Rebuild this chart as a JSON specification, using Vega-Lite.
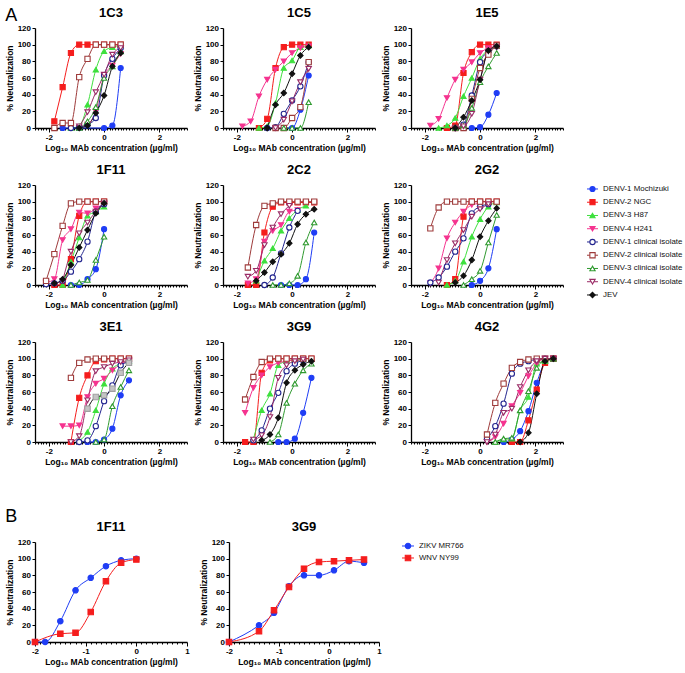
{
"$schema": "https://vega.github.io/schema/vega-lite/v6.json",
"background": "white",
"padding": {"left": 5, "top": 7, "right": 5, "bottom": 5},
"datasets": {
"pts": [
{"p":"1C3","s":"D1","x":-1.5,"y":0},{"p":"1C3","s":"D1","x":-0.9,"y":0},{"p":"1C3","s":"D1","x":0,"y":0},{"p":"1C3","s":"D1","x":0.3,"y":3},{"p":"1C3","s":"D1","x":0.6,"y":72},
{"p":"1C3","s":"D2","x":-1.8,"y":8},{"p":"1C3","s":"D2","x":-1.5,"y":49},{"p":"1C3","s":"D2","x":-1.2,"y":90},{"p":"1C3","s":"D2","x":-0.9,"y":100},{"p":"1C3","s":"D2","x":-0.6,"y":100},{"p":"1C3","s":"D2","x":-0.3,"y":100},{"p":"1C3","s":"D2","x":0,"y":100},{"p":"1C3","s":"D2","x":0.3,"y":100},{"p":"1C3","s":"D2","x":0.6,"y":100},
{"p":"1C3","s":"D3","x":-1.2,"y":0},{"p":"1C3","s":"D3","x":-0.9,"y":2},{"p":"1C3","s":"D3","x":-0.6,"y":28},{"p":"1C3","s":"D3","x":-0.3,"y":70},{"p":"1C3","s":"D3","x":0,"y":92},{"p":"1C3","s":"D3","x":0.3,"y":97},{"p":"1C3","s":"D3","x":0.6,"y":99},
{"p":"1C3","s":"D4","x":-0.9,"y":0},{"p":"1C3","s":"D4","x":-0.6,"y":4},{"p":"1C3","s":"D4","x":-0.3,"y":20},{"p":"1C3","s":"D4","x":0,"y":63},{"p":"1C3","s":"D4","x":0.3,"y":75},{"p":"1C3","s":"D4","x":0.6,"y":89},
{"p":"1C3","s":"C1","x":-1.2,"y":0},{"p":"1C3","s":"C1","x":-0.9,"y":1},{"p":"1C3","s":"C1","x":-0.6,"y":4},{"p":"1C3","s":"C1","x":-0.3,"y":12},{"p":"1C3","s":"C1","x":0,"y":63},{"p":"1C3","s":"C1","x":0.3,"y":83},{"p":"1C3","s":"C1","x":0.6,"y":96},
{"p":"1C3","s":"C2","x":-1.8,"y":0},{"p":"1C3","s":"C2","x":-1.5,"y":6},{"p":"1C3","s":"C2","x":-1.2,"y":6},{"p":"1C3","s":"C2","x":-0.9,"y":61},{"p":"1C3","s":"C2","x":-0.6,"y":83},{"p":"1C3","s":"C2","x":-0.3,"y":100},{"p":"1C3","s":"C2","x":0,"y":100},{"p":"1C3","s":"C2","x":0.3,"y":100},{"p":"1C3","s":"C2","x":0.6,"y":100},
{"p":"1C3","s":"C3","x":-0.9,"y":0},{"p":"1C3","s":"C3","x":-0.6,"y":8},{"p":"1C3","s":"C3","x":-0.3,"y":25},{"p":"1C3","s":"C3","x":0,"y":60},{"p":"1C3","s":"C3","x":0.3,"y":74},{"p":"1C3","s":"C3","x":0.6,"y":92},
{"p":"1C3","s":"C4","x":-0.9,"y":2},{"p":"1C3","s":"C4","x":-0.6,"y":19},{"p":"1C3","s":"C4","x":-0.3,"y":43},{"p":"1C3","s":"C4","x":0,"y":64},{"p":"1C3","s":"C4","x":0.3,"y":88},{"p":"1C3","s":"C4","x":0.6,"y":96},
{"p":"1C3","s":"JEV","x":-0.9,"y":0},{"p":"1C3","s":"JEV","x":-0.6,"y":3},{"p":"1C3","s":"JEV","x":-0.3,"y":18},{"p":"1C3","s":"JEV","x":0,"y":39},{"p":"1C3","s":"JEV","x":0.3,"y":74},{"p":"1C3","s":"JEV","x":0.6,"y":90},

{"p":"1C5","s":"D1","x":-0.3,"y":0},{"p":"1C5","s":"D1","x":0,"y":0},{"p":"1C5","s":"D1","x":0.3,"y":22},{"p":"1C5","s":"D1","x":0.6,"y":63},
{"p":"1C5","s":"D2","x":-1.2,"y":0},{"p":"1C5","s":"D2","x":-0.9,"y":11},{"p":"1C5","s":"D2","x":-0.6,"y":72},{"p":"1C5","s":"D2","x":-0.3,"y":97},{"p":"1C5","s":"D2","x":0,"y":100},{"p":"1C5","s":"D2","x":0.3,"y":100},{"p":"1C5","s":"D2","x":0.6,"y":100},
{"p":"1C5","s":"D3","x":-1.2,"y":0},{"p":"1C5","s":"D3","x":-0.9,"y":2},{"p":"1C5","s":"D3","x":-0.6,"y":30},{"p":"1C5","s":"D3","x":-0.3,"y":72},{"p":"1C5","s":"D3","x":0,"y":81},{"p":"1C5","s":"D3","x":0.3,"y":97},{"p":"1C5","s":"D3","x":0.6,"y":99},
{"p":"1C5","s":"D4","x":-1.8,"y":2},{"p":"1C5","s":"D4","x":-1.5,"y":8},{"p":"1C5","s":"D4","x":-1.2,"y":38},{"p":"1C5","s":"D4","x":-0.9,"y":58},{"p":"1C5","s":"D4","x":-0.6,"y":70},{"p":"1C5","s":"D4","x":-0.3,"y":80},{"p":"1C5","s":"D4","x":0,"y":90},{"p":"1C5","s":"D4","x":0.3,"y":96},{"p":"1C5","s":"D4","x":0.6,"y":98},
{"p":"1C5","s":"C1","x":-0.9,"y":0},{"p":"1C5","s":"C1","x":-0.6,"y":1},{"p":"1C5","s":"C1","x":-0.3,"y":17},{"p":"1C5","s":"C1","x":0,"y":33},{"p":"1C5","s":"C1","x":0.3,"y":50},{"p":"1C5","s":"C1","x":0.6,"y":79},
{"p":"1C5","s":"C2","x":-0.6,"y":0},{"p":"1C5","s":"C2","x":-0.3,"y":0},{"p":"1C5","s":"C2","x":0,"y":12},{"p":"1C5","s":"C2","x":0.3,"y":25},{"p":"1C5","s":"C2","x":0.6,"y":79},
{"p":"1C5","s":"C3","x":-0.3,"y":0},{"p":"1C5","s":"C3","x":0,"y":0},{"p":"1C5","s":"C3","x":0.3,"y":0},{"p":"1C5","s":"C3","x":0.6,"y":31},
{"p":"1C5","s":"C4","x":-0.6,"y":0},{"p":"1C5","s":"C4","x":-0.3,"y":10},{"p":"1C5","s":"C4","x":0,"y":32},{"p":"1C5","s":"C4","x":0.3,"y":55},{"p":"1C5","s":"C4","x":0.6,"y":71},
{"p":"1C5","s":"JEV","x":-0.9,"y":0},{"p":"1C5","s":"JEV","x":-0.6,"y":28},{"p":"1C5","s":"JEV","x":-0.3,"y":42},{"p":"1C5","s":"JEV","x":0,"y":65},{"p":"1C5","s":"JEV","x":0.3,"y":87},{"p":"1C5","s":"JEV","x":0.6,"y":97},

{"p":"1E5","s":"D1","x":-0.3,"y":0},{"p":"1E5","s":"D1","x":0,"y":1},{"p":"1E5","s":"D1","x":0.3,"y":16},{"p":"1E5","s":"D1","x":0.6,"y":42},
{"p":"1E5","s":"D2","x":-1.2,"y":0},{"p":"1E5","s":"D2","x":-0.9,"y":3},{"p":"1E5","s":"D2","x":-0.6,"y":66},{"p":"1E5","s":"D2","x":-0.3,"y":91},{"p":"1E5","s":"D2","x":0,"y":100},{"p":"1E5","s":"D2","x":0.3,"y":100},{"p":"1E5","s":"D2","x":0.6,"y":100},
{"p":"1E5","s":"D3","x":-1.5,"y":0},{"p":"1E5","s":"D3","x":-1.2,"y":3},{"p":"1E5","s":"D3","x":-0.9,"y":12},{"p":"1E5","s":"D3","x":-0.6,"y":38},{"p":"1E5","s":"D3","x":-0.3,"y":60},{"p":"1E5","s":"D3","x":0,"y":83},{"p":"1E5","s":"D3","x":0.3,"y":94},{"p":"1E5","s":"D3","x":0.6,"y":98},
{"p":"1E5","s":"D4","x":-1.8,"y":3},{"p":"1E5","s":"D4","x":-1.5,"y":11},{"p":"1E5","s":"D4","x":-1.2,"y":36},{"p":"1E5","s":"D4","x":-0.9,"y":58},{"p":"1E5","s":"D4","x":-0.6,"y":70},{"p":"1E5","s":"D4","x":-0.3,"y":79},{"p":"1E5","s":"D4","x":0,"y":90},{"p":"1E5","s":"D4","x":0.3,"y":96},{"p":"1E5","s":"D4","x":0.6,"y":98},
{"p":"1E5","s":"C1","x":-0.9,"y":0},{"p":"1E5","s":"C1","x":-0.6,"y":4},{"p":"1E5","s":"C1","x":-0.3,"y":39},{"p":"1E5","s":"C1","x":0,"y":79},{"p":"1E5","s":"C1","x":0.3,"y":92},{"p":"1E5","s":"C1","x":0.6,"y":98},
{"p":"1E5","s":"C2","x":-0.9,"y":0},{"p":"1E5","s":"C2","x":-0.6,"y":0},{"p":"1E5","s":"C2","x":-0.3,"y":35},{"p":"1E5","s":"C2","x":0,"y":72},{"p":"1E5","s":"C2","x":0.3,"y":88},{"p":"1E5","s":"C2","x":0.6,"y":99},
{"p":"1E5","s":"C3","x":-0.9,"y":0},{"p":"1E5","s":"C3","x":-0.6,"y":3},{"p":"1E5","s":"C3","x":-0.3,"y":24},{"p":"1E5","s":"C3","x":0,"y":55},{"p":"1E5","s":"C3","x":0.3,"y":74},{"p":"1E5","s":"C3","x":0.6,"y":90},
{"p":"1E5","s":"C4","x":-0.9,"y":0},{"p":"1E5","s":"C4","x":-0.6,"y":2},{"p":"1E5","s":"C4","x":-0.3,"y":17},{"p":"1E5","s":"C4","x":0,"y":58},{"p":"1E5","s":"C4","x":0.3,"y":92},{"p":"1E5","s":"C4","x":0.6,"y":97},
{"p":"1E5","s":"JEV","x":-0.9,"y":0},{"p":"1E5","s":"JEV","x":-0.6,"y":13},{"p":"1E5","s":"JEV","x":-0.3,"y":33},{"p":"1E5","s":"JEV","x":0,"y":58},{"p":"1E5","s":"JEV","x":0.3,"y":93},{"p":"1E5","s":"JEV","x":0.6,"y":98},

{"p":"1F11","s":"D1","x":-1.2,"y":0},{"p":"1F11","s":"D1","x":-0.9,"y":0},{"p":"1F11","s":"D1","x":-0.6,"y":7},{"p":"1F11","s":"D1","x":-0.3,"y":19},{"p":"1F11","s":"D1","x":0,"y":67},
{"p":"1F11","s":"D2","x":-1.8,"y":0},{"p":"1F11","s":"D2","x":-1.5,"y":0},{"p":"1F11","s":"D2","x":-1.2,"y":31},{"p":"1F11","s":"D2","x":-0.9,"y":83},{"p":"1F11","s":"D2","x":-0.6,"y":100},{"p":"1F11","s":"D2","x":-0.3,"y":100},{"p":"1F11","s":"D2","x":0,"y":100},
{"p":"1F11","s":"D3","x":-1.5,"y":0},{"p":"1F11","s":"D3","x":-1.2,"y":28},{"p":"1F11","s":"D3","x":-0.9,"y":57},{"p":"1F11","s":"D3","x":-0.6,"y":83},{"p":"1F11","s":"D3","x":-0.3,"y":88},{"p":"1F11","s":"D3","x":0,"y":94},
{"p":"1F11","s":"D4","x":-2.1,"y":3},{"p":"1F11","s":"D4","x":-1.8,"y":7},{"p":"1F11","s":"D4","x":-1.5,"y":54},{"p":"1F11","s":"D4","x":-1.2,"y":67},{"p":"1F11","s":"D4","x":-0.9,"y":87},{"p":"1F11","s":"D4","x":-0.6,"y":86},{"p":"1F11","s":"D4","x":-0.3,"y":92},{"p":"1F11","s":"D4","x":0,"y":97},
{"p":"1F11","s":"C1","x":-2.1,"y":1},{"p":"1F11","s":"C1","x":-1.8,"y":2},{"p":"1F11","s":"C1","x":-1.5,"y":5},{"p":"1F11","s":"C1","x":-1.2,"y":16},{"p":"1F11","s":"C1","x":-0.9,"y":31},{"p":"1F11","s":"C1","x":-0.6,"y":52},{"p":"1F11","s":"C1","x":-0.3,"y":88},{"p":"1F11","s":"C1","x":0,"y":97},
{"p":"1F11","s":"C2","x":-2.1,"y":5},{"p":"1F11","s":"C2","x":-1.8,"y":37},{"p":"1F11","s":"C2","x":-1.5,"y":71},{"p":"1F11","s":"C2","x":-1.2,"y":98},{"p":"1F11","s":"C2","x":-0.9,"y":100},{"p":"1F11","s":"C2","x":-0.6,"y":100},{"p":"1F11","s":"C2","x":-0.3,"y":100},{"p":"1F11","s":"C2","x":0,"y":100},
{"p":"1F11","s":"C3","x":-1.2,"y":0},{"p":"1F11","s":"C3","x":-0.9,"y":3},{"p":"1F11","s":"C3","x":-0.6,"y":6},{"p":"1F11","s":"C3","x":-0.3,"y":30},{"p":"1F11","s":"C3","x":0,"y":58},
{"p":"1F11","s":"C4","x":-1.5,"y":5},{"p":"1F11","s":"C4","x":-1.2,"y":40},{"p":"1F11","s":"C4","x":-0.9,"y":62},{"p":"1F11","s":"C4","x":-0.6,"y":75},{"p":"1F11","s":"C4","x":-0.3,"y":88},{"p":"1F11","s":"C4","x":0,"y":98},
{"p":"1F11","s":"JEV","x":-1.8,"y":2},{"p":"1F11","s":"JEV","x":-1.5,"y":7},{"p":"1F11","s":"JEV","x":-1.2,"y":24},{"p":"1F11","s":"JEV","x":-0.9,"y":45},{"p":"1F11","s":"JEV","x":-0.6,"y":66},{"p":"1F11","s":"JEV","x":-0.3,"y":86},{"p":"1F11","s":"JEV","x":0,"y":98},

{"p":"2C2","s":"D1","x":-0.4,"y":0},{"p":"2C2","s":"D1","x":-0.1,"y":0},{"p":"2C2","s":"D1","x":0.2,"y":0},{"p":"2C2","s":"D1","x":0.5,"y":7},{"p":"2C2","s":"D1","x":0.8,"y":63},
{"p":"2C2","s":"D2","x":-1.6,"y":0},{"p":"2C2","s":"D2","x":-1.3,"y":0},{"p":"2C2","s":"D2","x":-1.0,"y":63},{"p":"2C2","s":"D2","x":-0.7,"y":94},{"p":"2C2","s":"D2","x":-0.4,"y":99},{"p":"2C2","s":"D2","x":-0.1,"y":99},{"p":"2C2","s":"D2","x":0.2,"y":99},{"p":"2C2","s":"D2","x":0.5,"y":99},{"p":"2C2","s":"D2","x":0.8,"y":99},
{"p":"2C2","s":"D3","x":-1.3,"y":5},{"p":"2C2","s":"D3","x":-1.0,"y":29},{"p":"2C2","s":"D3","x":-0.7,"y":44},{"p":"2C2","s":"D3","x":-0.4,"y":65},{"p":"2C2","s":"D3","x":-0.1,"y":80},{"p":"2C2","s":"D3","x":0.2,"y":90},{"p":"2C2","s":"D3","x":0.5,"y":95},
{"p":"2C2","s":"D4","x":-1.6,"y":2},{"p":"2C2","s":"D4","x":-1.3,"y":7},{"p":"2C2","s":"D4","x":-1.0,"y":52},{"p":"2C2","s":"D4","x":-0.7,"y":65},{"p":"2C2","s":"D4","x":-0.4,"y":72},{"p":"2C2","s":"D4","x":-0.1,"y":88},{"p":"2C2","s":"D4","x":0.2,"y":90},
{"p":"2C2","s":"C1","x":-1.0,"y":0},{"p":"2C2","s":"C1","x":-0.7,"y":9},{"p":"2C2","s":"C1","x":-0.4,"y":38},{"p":"2C2","s":"C1","x":-0.1,"y":69},{"p":"2C2","s":"C1","x":0.2,"y":89},
{"p":"2C2","s":"C2","x":-1.6,"y":21},{"p":"2C2","s":"C2","x":-1.3,"y":72},{"p":"2C2","s":"C2","x":-1.0,"y":95},{"p":"2C2","s":"C2","x":-0.7,"y":98},{"p":"2C2","s":"C2","x":-0.4,"y":100},{"p":"2C2","s":"C2","x":-0.1,"y":100},{"p":"2C2","s":"C2","x":0.2,"y":100},{"p":"2C2","s":"C2","x":0.5,"y":100},{"p":"2C2","s":"C2","x":0.8,"y":100},
{"p":"2C2","s":"C3","x":-0.7,"y":0},{"p":"2C2","s":"C3","x":-0.4,"y":0},{"p":"2C2","s":"C3","x":-0.1,"y":2},{"p":"2C2","s":"C3","x":0.2,"y":11},{"p":"2C2","s":"C3","x":0.5,"y":51},{"p":"2C2","s":"C3","x":0.8,"y":75},
{"p":"2C2","s":"C4","x":-1.6,"y":10},{"p":"2C2","s":"C4","x":-1.3,"y":17},{"p":"2C2","s":"C4","x":-1.0,"y":48},{"p":"2C2","s":"C4","x":-0.7,"y":69},{"p":"2C2","s":"C4","x":-0.4,"y":85},{"p":"2C2","s":"C4","x":-0.1,"y":95},
{"p":"2C2","s":"JEV","x":-1.3,"y":5},{"p":"2C2","s":"JEV","x":-1.0,"y":15},{"p":"2C2","s":"JEV","x":-0.7,"y":28},{"p":"2C2","s":"JEV","x":-0.4,"y":37},{"p":"2C2","s":"JEV","x":-0.1,"y":50},{"p":"2C2","s":"JEV","x":0.2,"y":73},{"p":"2C2","s":"JEV","x":0.5,"y":85},{"p":"2C2","s":"JEV","x":0.8,"y":91},

{"p":"2G2","s":"D1","x":-0.3,"y":0},{"p":"2G2","s":"D1","x":0,"y":5},{"p":"2G2","s":"D1","x":0.3,"y":20},{"p":"2G2","s":"D1","x":0.6,"y":67},
{"p":"2G2","s":"D2","x":-1.2,"y":0},{"p":"2G2","s":"D2","x":-0.9,"y":7},{"p":"2G2","s":"D2","x":-0.6,"y":82},{"p":"2G2","s":"D2","x":-0.3,"y":100},{"p":"2G2","s":"D2","x":0,"y":100},{"p":"2G2","s":"D2","x":0.3,"y":100},{"p":"2G2","s":"D2","x":0.6,"y":100},
{"p":"2G2","s":"D3","x":-1.2,"y":0},{"p":"2G2","s":"D3","x":-0.9,"y":5},{"p":"2G2","s":"D3","x":-0.6,"y":28},{"p":"2G2","s":"D3","x":-0.3,"y":58},{"p":"2G2","s":"D3","x":0,"y":79},{"p":"2G2","s":"D3","x":0.3,"y":94},{"p":"2G2","s":"D3","x":0.6,"y":99},
{"p":"2G2","s":"D4","x":-1.8,"y":2},{"p":"2G2","s":"D4","x":-1.5,"y":20},{"p":"2G2","s":"D4","x":-1.2,"y":56},{"p":"2G2","s":"D4","x":-0.9,"y":75},{"p":"2G2","s":"D4","x":-0.6,"y":88},{"p":"2G2","s":"D4","x":-0.3,"y":96},{"p":"2G2","s":"D4","x":0,"y":98},
{"p":"2G2","s":"C1","x":-1.8,"y":3},{"p":"2G2","s":"C1","x":-1.5,"y":9},{"p":"2G2","s":"C1","x":-1.2,"y":22},{"p":"2G2","s":"C1","x":-0.9,"y":40},{"p":"2G2","s":"C1","x":-0.6,"y":56},{"p":"2G2","s":"C1","x":-0.3,"y":86},{"p":"2G2","s":"C1","x":0,"y":94},{"p":"2G2","s":"C1","x":0.3,"y":97},
{"p":"2G2","s":"C2","x":-1.8,"y":68},{"p":"2G2","s":"C2","x":-1.5,"y":93},{"p":"2G2","s":"C2","x":-1.2,"y":100},{"p":"2G2","s":"C2","x":-0.9,"y":100},{"p":"2G2","s":"C2","x":-0.6,"y":100},{"p":"2G2","s":"C2","x":-0.3,"y":100},{"p":"2G2","s":"C2","x":0,"y":100},{"p":"2G2","s":"C2","x":0.3,"y":100},{"p":"2G2","s":"C2","x":0.6,"y":100},
{"p":"2G2","s":"C3","x":-0.6,"y":0},{"p":"2G2","s":"C3","x":-0.3,"y":7},{"p":"2G2","s":"C3","x":0,"y":17},{"p":"2G2","s":"C3","x":0.3,"y":51},{"p":"2G2","s":"C3","x":0.6,"y":84},
{"p":"2G2","s":"C4","x":-1.5,"y":3},{"p":"2G2","s":"C4","x":-1.2,"y":30},{"p":"2G2","s":"C4","x":-0.9,"y":50},{"p":"2G2","s":"C4","x":-0.6,"y":66},{"p":"2G2","s":"C4","x":-0.3,"y":82},{"p":"2G2","s":"C4","x":0,"y":91},{"p":"2G2","s":"C4","x":0.3,"y":97},
{"p":"2G2","s":"JEV","x":-0.9,"y":3},{"p":"2G2","s":"JEV","x":-0.6,"y":11},{"p":"2G2","s":"JEV","x":-0.3,"y":30},{"p":"2G2","s":"JEV","x":0,"y":58},{"p":"2G2","s":"JEV","x":0.3,"y":77},{"p":"2G2","s":"JEV","x":0.6,"y":92},

{"p":"3E1","s":"D1","x":-0.6,"y":0},{"p":"3E1","s":"D1","x":-0.3,"y":0},{"p":"3E1","s":"D1","x":0,"y":3},{"p":"3E1","s":"D1","x":0.3,"y":16},{"p":"3E1","s":"D1","x":0.6,"y":56},{"p":"3E1","s":"D1","x":0.9,"y":74},
{"p":"3E1","s":"D2","x":-1.2,"y":0},{"p":"3E1","s":"D2","x":-0.9,"y":53},{"p":"3E1","s":"D2","x":-0.6,"y":80},{"p":"3E1","s":"D2","x":-0.3,"y":97},{"p":"3E1","s":"D2","x":0,"y":99},{"p":"3E1","s":"D2","x":0.3,"y":100},{"p":"3E1","s":"D2","x":0.6,"y":100},{"p":"3E1","s":"D2","x":0.9,"y":100},
{"p":"3E1","s":"D3","x":-0.9,"y":2},{"p":"3E1","s":"D3","x":-0.6,"y":12},{"p":"3E1","s":"D3","x":-0.3,"y":38},{"p":"3E1","s":"D3","x":0,"y":70},{"p":"3E1","s":"D3","x":0.3,"y":88},{"p":"3E1","s":"D3","x":0.6,"y":94},{"p":"3E1","s":"D3","x":0.9,"y":97},
{"p":"3E1","s":"D4","x":-1.5,"y":19},{"p":"3E1","s":"D4","x":-1.2,"y":19},{"p":"3E1","s":"D4","x":-0.9,"y":20},{"p":"3E1","s":"D4","x":-0.6,"y":54},{"p":"3E1","s":"D4","x":-0.3,"y":70},{"p":"3E1","s":"D4","x":0,"y":76},{"p":"3E1","s":"D4","x":0.3,"y":86},{"p":"3E1","s":"D4","x":0.6,"y":93},{"p":"3E1","s":"D4","x":0.9,"y":97},
{"p":"3E1","s":"C1","x":-0.9,"y":0},{"p":"3E1","s":"C1","x":-0.6,"y":2},{"p":"3E1","s":"C1","x":-0.3,"y":19},{"p":"3E1","s":"C1","x":0,"y":49},{"p":"3E1","s":"C1","x":0.3,"y":68},{"p":"3E1","s":"C1","x":0.6,"y":92},{"p":"3E1","s":"C1","x":0.9,"y":96},
{"p":"3E1","s":"C2","x":-1.2,"y":77},{"p":"3E1","s":"C2","x":-0.9,"y":95},{"p":"3E1","s":"C2","x":-0.6,"y":99},{"p":"3E1","s":"C2","x":-0.3,"y":100},{"p":"3E1","s":"C2","x":0,"y":100},{"p":"3E1","s":"C2","x":0.3,"y":100},{"p":"3E1","s":"C2","x":0.6,"y":100},{"p":"3E1","s":"C2","x":0.9,"y":100},
{"p":"3E1","s":"C3","x":-0.3,"y":0},{"p":"3E1","s":"C3","x":0,"y":3},{"p":"3E1","s":"C3","x":0.3,"y":43},{"p":"3E1","s":"C3","x":0.6,"y":66},{"p":"3E1","s":"C3","x":0.9,"y":86},
{"p":"3E1","s":"C4","x":-1.2,"y":0},{"p":"3E1","s":"C4","x":-0.9,"y":7},{"p":"3E1","s":"C4","x":-0.6,"y":50},{"p":"3E1","s":"C4","x":-0.3,"y":85},{"p":"3E1","s":"C4","x":0,"y":90},{"p":"3E1","s":"C4","x":0.3,"y":94},{"p":"3E1","s":"C4","x":0.6,"y":96},{"p":"3E1","s":"C4","x":0.9,"y":98},
{"p":"3E1","s":"JG","x":-0.6,"y":40},{"p":"3E1","s":"JG","x":-0.3,"y":54},{"p":"3E1","s":"JG","x":0,"y":56},{"p":"3E1","s":"JG","x":0.3,"y":64},{"p":"3E1","s":"JG","x":0.6,"y":83},{"p":"3E1","s":"JG","x":0.9,"y":95},

{"p":"3G9","s":"D1","x":-0.5,"y":0},{"p":"3G9","s":"D1","x":-0.2,"y":0},{"p":"3G9","s":"D1","x":0.1,"y":4},{"p":"3G9","s":"D1","x":0.4,"y":35},{"p":"3G9","s":"D1","x":0.7,"y":77},
{"p":"3G9","s":"D2","x":-1.7,"y":0},{"p":"3G9","s":"D2","x":-1.4,"y":0},{"p":"3G9","s":"D2","x":-1.1,"y":83},{"p":"3G9","s":"D2","x":-0.8,"y":98},{"p":"3G9","s":"D2","x":-0.5,"y":100},{"p":"3G9","s":"D2","x":-0.2,"y":100},{"p":"3G9","s":"D2","x":0.1,"y":100},{"p":"3G9","s":"D2","x":0.4,"y":100},{"p":"3G9","s":"D2","x":0.7,"y":100},
{"p":"3G9","s":"D3","x":-1.4,"y":3},{"p":"3G9","s":"D3","x":-1.1,"y":38},{"p":"3G9","s":"D3","x":-0.8,"y":58},{"p":"3G9","s":"D3","x":-0.5,"y":92},{"p":"3G9","s":"D3","x":-0.2,"y":97},{"p":"3G9","s":"D3","x":0.1,"y":99},{"p":"3G9","s":"D3","x":0.4,"y":100},
{"p":"3G9","s":"D4","x":-1.7,"y":35},{"p":"3G9","s":"D4","x":-1.4,"y":65},{"p":"3G9","s":"D4","x":-1.1,"y":80},{"p":"3G9","s":"D4","x":-0.8,"y":90},{"p":"3G9","s":"D4","x":-0.5,"y":95},{"p":"3G9","s":"D4","x":-0.2,"y":97},{"p":"3G9","s":"D4","x":0.1,"y":99},
{"p":"3G9","s":"C1","x":-1.4,"y":2},{"p":"3G9","s":"C1","x":-1.1,"y":14},{"p":"3G9","s":"C1","x":-0.8,"y":40},{"p":"3G9","s":"C1","x":-0.5,"y":59},{"p":"3G9","s":"C1","x":-0.2,"y":85},{"p":"3G9","s":"C1","x":0.1,"y":94},{"p":"3G9","s":"C1","x":0.4,"y":98},
{"p":"3G9","s":"C2","x":-1.7,"y":51},{"p":"3G9","s":"C2","x":-1.4,"y":78},{"p":"3G9","s":"C2","x":-1.1,"y":96},{"p":"3G9","s":"C2","x":-0.8,"y":100},{"p":"3G9","s":"C2","x":-0.5,"y":100},{"p":"3G9","s":"C2","x":-0.2,"y":100},{"p":"3G9","s":"C2","x":0.1,"y":100},{"p":"3G9","s":"C2","x":0.4,"y":100},{"p":"3G9","s":"C2","x":0.7,"y":100},
{"p":"3G9","s":"C3","x":-0.8,"y":0},{"p":"3G9","s":"C3","x":-0.5,"y":9},{"p":"3G9","s":"C3","x":-0.2,"y":47},{"p":"3G9","s":"C3","x":0.1,"y":70},{"p":"3G9","s":"C3","x":0.4,"y":86},{"p":"3G9","s":"C3","x":0.7,"y":94},
{"p":"3G9","s":"C4","x":-1.4,"y":3},{"p":"3G9","s":"C4","x":-1.1,"y":8},{"p":"3G9","s":"C4","x":-0.8,"y":30},{"p":"3G9","s":"C4","x":-0.5,"y":77},{"p":"3G9","s":"C4","x":-0.2,"y":92},{"p":"3G9","s":"C4","x":0.1,"y":97},{"p":"3G9","s":"C4","x":0.4,"y":99},
{"p":"3G9","s":"JEV","x":-1.1,"y":2},{"p":"3G9","s":"JEV","x":-0.8,"y":9},{"p":"3G9","s":"JEV","x":-0.5,"y":29},{"p":"3G9","s":"JEV","x":-0.2,"y":71},{"p":"3G9","s":"JEV","x":0.1,"y":86},{"p":"3G9","s":"JEV","x":0.4,"y":93},{"p":"3G9","s":"JEV","x":0.7,"y":97},

{"p":"4G2","s":"D1","x":0.85,"y":0},{"p":"4G2","s":"D1","x":1.15,"y":3},{"p":"4G2","s":"D1","x":1.45,"y":13},{"p":"4G2","s":"D1","x":1.75,"y":37},{"p":"4G2","s":"D1","x":2.05,"y":71},{"p":"4G2","s":"D1","x":2.35,"y":95},{"p":"4G2","s":"D1","x":2.65,"y":100},
{"p":"4G2","s":"D2","x":1.15,"y":0},{"p":"4G2","s":"D2","x":1.45,"y":0},{"p":"4G2","s":"D2","x":1.75,"y":26},{"p":"4G2","s":"D2","x":2.05,"y":63},{"p":"4G2","s":"D2","x":2.35,"y":95},{"p":"4G2","s":"D2","x":2.65,"y":100},
{"p":"4G2","s":"D3","x":0.55,"y":0},{"p":"4G2","s":"D3","x":0.85,"y":3},{"p":"4G2","s":"D3","x":1.15,"y":4},{"p":"4G2","s":"D3","x":1.45,"y":38},{"p":"4G2","s":"D3","x":1.75,"y":54},{"p":"4G2","s":"D3","x":2.05,"y":94},{"p":"4G2","s":"D3","x":2.35,"y":97},{"p":"4G2","s":"D3","x":2.65,"y":100},
{"p":"4G2","s":"D4","x":0.25,"y":0},{"p":"4G2","s":"D4","x":0.55,"y":6},{"p":"4G2","s":"D4","x":0.85,"y":22},{"p":"4G2","s":"D4","x":1.15,"y":43},{"p":"4G2","s":"D4","x":1.45,"y":59},{"p":"4G2","s":"D4","x":1.75,"y":79},{"p":"4G2","s":"D4","x":2.05,"y":94},{"p":"4G2","s":"D4","x":2.35,"y":100},{"p":"4G2","s":"D4","x":2.65,"y":100},
{"p":"4G2","s":"C1","x":0.25,"y":4},{"p":"4G2","s":"C1","x":0.55,"y":19},{"p":"4G2","s":"C1","x":0.85,"y":46},{"p":"4G2","s":"C1","x":1.15,"y":82},{"p":"4G2","s":"C1","x":1.45,"y":94},{"p":"4G2","s":"C1","x":1.75,"y":97},{"p":"4G2","s":"C1","x":2.05,"y":99},{"p":"4G2","s":"C1","x":2.35,"y":100},{"p":"4G2","s":"C1","x":2.65,"y":100},
{"p":"4G2","s":"C2","x":0.25,"y":9},{"p":"4G2","s":"C2","x":0.55,"y":47},{"p":"4G2","s":"C2","x":0.85,"y":70},{"p":"4G2","s":"C2","x":1.15,"y":89},{"p":"4G2","s":"C2","x":1.45,"y":96},{"p":"4G2","s":"C2","x":1.75,"y":99},{"p":"4G2","s":"C2","x":2.05,"y":100},{"p":"4G2","s":"C2","x":2.35,"y":100},{"p":"4G2","s":"C2","x":2.65,"y":100},
{"p":"4G2","s":"C3","x":0.55,"y":0},{"p":"4G2","s":"C3","x":0.85,"y":4},{"p":"4G2","s":"C3","x":1.15,"y":5},{"p":"4G2","s":"C3","x":1.45,"y":38},{"p":"4G2","s":"C3","x":1.75,"y":61},{"p":"4G2","s":"C3","x":2.05,"y":89},{"p":"4G2","s":"C3","x":2.35,"y":98},{"p":"4G2","s":"C3","x":2.65,"y":100},
{"p":"4G2","s":"C4","x":0.25,"y":0},{"p":"4G2","s":"C4","x":0.55,"y":9},{"p":"4G2","s":"C4","x":0.85,"y":35},{"p":"4G2","s":"C4","x":1.15,"y":40},{"p":"4G2","s":"C4","x":1.45,"y":66},{"p":"4G2","s":"C4","x":1.75,"y":86},{"p":"4G2","s":"C4","x":2.05,"y":97},{"p":"4G2","s":"C4","x":2.35,"y":100},{"p":"4G2","s":"C4","x":2.65,"y":100},
{"p":"4G2","s":"JEV","x":1.45,"y":0},{"p":"4G2","s":"JEV","x":1.75,"y":11},{"p":"4G2","s":"JEV","x":2.05,"y":58},{"p":"4G2","s":"JEV","x":2.35,"y":97},{"p":"4G2","s":"JEV","x":2.65,"y":100},

{"p":"B1","s":"ZIKV","x":-2,"y":0},{"p":"B1","s":"ZIKV","x":-1.8,"y":0},{"p":"B1","s":"ZIKV","x":-1.5,"y":25},{"p":"B1","s":"ZIKV","x":-1.2,"y":62},{"p":"B1","s":"ZIKV","x":-0.9,"y":77},{"p":"B1","s":"ZIKV","x":-0.6,"y":91},{"p":"B1","s":"ZIKV","x":-0.3,"y":98},{"p":"B1","s":"ZIKV","x":0,"y":100},
{"p":"B1","s":"WNV","x":-2,"y":0},{"p":"B1","s":"WNV","x":-1.5,"y":10},{"p":"B1","s":"WNV","x":-1.2,"y":11},{"p":"B1","s":"WNV","x":-0.9,"y":36},{"p":"B1","s":"WNV","x":-0.6,"y":73},{"p":"B1","s":"WNV","x":-0.3,"y":95},{"p":"B1","s":"WNV","x":0,"y":99},
{"p":"B2","s":"ZIKV","x":-2,"y":0},{"p":"B2","s":"ZIKV","x":-1.4,"y":20},{"p":"B2","s":"ZIKV","x":-1.1,"y":35},{"p":"B2","s":"ZIKV","x":-0.8,"y":67},{"p":"B2","s":"ZIKV","x":-0.5,"y":80},{"p":"B2","s":"ZIKV","x":-0.2,"y":80},{"p":"B2","s":"ZIKV","x":0.1,"y":86},{"p":"B2","s":"ZIKV","x":0.4,"y":97},{"p":"B2","s":"ZIKV","x":0.7,"y":95},
{"p":"B2","s":"WNV","x":-2,"y":0},{"p":"B2","s":"WNV","x":-1.4,"y":13},{"p":"B2","s":"WNV","x":-1.1,"y":38},{"p":"B2","s":"WNV","x":-0.8,"y":66},{"p":"B2","s":"WNV","x":-0.5,"y":88},{"p":"B2","s":"WNV","x":-0.2,"y":96},{"p":"B2","s":"WNV","x":0.1,"y":97},{"p":"B2","s":"WNV","x":0.4,"y":98},{"p":"B2","s":"WNV","x":0.7,"y":99}
]
},
"data": {"name": "pts"},
"config": {
  "view": {"stroke": null},
  "font": "Liberation Sans",
  "title": {"font": "Liberation Sans", "fontSize": 13, "fontWeight": "bold", "color": "#000", "offset": 4, "anchor": "middle"},
  "axis": {"grid": false, "domainColor": "#000", "domainWidth": 1.3, "tickColor": "#000", "tickWidth": 1, "labelFont": "Liberation Sans", "labelFontSize": 8, "labelFontWeight": "bold", "labelColor": "#000", "titleFont": "Liberation Sans", "titleFontSize": 8.5, "titleFontWeight": "bold", "titleColor": "#000"},
  "axisY": {"tickSize": 3, "labelPadding": 1.5, "titlePadding": 3},
  "axisX": {"labelPadding": 1, "titlePadding": 2}
},
"vconcat": [
{
 "title": {"text": "A", "anchor": "start", "fontSize": 18, "fontWeight": "normal", "offset": -18},
 "spacing": 12,
 "vconcat": [
  {"bounds": "flush", "spacing": 36, "hconcat": [
   {"width": 152, "height": 100, "title": "1C3", "transform": [{"filter": "datum.p == '1C3'"}],
    "encoding": {"x": {"field": "x", "type": "quantitative", "title": "Log₁₀ MAb concentration (µg/ml)", "scale": {"domain": [-2.5, 3], "nice": false, "zero": false}, "axis": {"tickCount": 55, "tickSize": {"condition": {"test": "abs(datum.value % 2) < 0.001", "value": 4}, "value": 2}, "labelExpr": "abs(datum.value % 2) < 0.001 ? toString(round(datum.value)) : ''", "labelOverlap": false, "labelFlush": false}},
     "y": {"field": "y", "type": "quantitative", "title": "% Neutralization", "scale": {"domain": [0, 120], "nice": false}, "axis": {"values": [0, 20, 40, 60, 80, 100, 120]}}},
    "layer": [
     {"mark": {"type": "line", "interpolate": "monotone", "strokeWidth": 1}, "encoding": {"color": {"field": "s", "type": "nominal", "legend": null, "scale": {"domain": ["D1","D2","D3","D4","C1","C2","C3","C4","JEV","JG","ZIKV","WNV"], "range": ["#1f3df5","#f51d1d","#3de03d","#f5338f","#23258f","#9e3b3b","#2f9a2f","#9a2b66","#111111","#111111","#1f3df5","#f51d1d"]}}}},
     {"mark": {"type": "point", "filled": true, "opacity": 1, "strokeWidth": 1.1}, "encoding": {
       "stroke": {"field": "s", "type": "nominal", "legend": null, "scale": {"domain": ["D1","D2","D3","D4","C1","C2","C3","C4","JEV","JG","ZIKV","WNV"], "range": ["#1f3df5","#f51d1d","#3de03d","#f5338f","#23258f","#9e3b3b","#2f9a2f","#9a2b66","#111111","#a0a0a0","#1f3df5","#f51d1d"]}},
       "fill": {"field": "s", "type": "nominal", "legend": null, "scale": {"domain": ["D1","D2","D3","D4","C1","C2","C3","C4","JEV","JG","ZIKV","WNV"], "range": ["#1f3df5","#f51d1d","#3de03d","#f5338f","#ffffff","#ffffff","#ffffff","#ffffff","#111111","#c4c4c4","#1f3df5","#f51d1d"]}},
       "shape": {"field": "s", "type": "nominal", "legend": null, "scale": {"domain": ["D1","D2","D3","D4","C1","C2","C3","C4","JEV","JG","ZIKV","WNV"], "range": ["circle","square","triangle-up","triangle-down","circle","square","triangle-up","triangle-down","diamond","square","circle","square"]}},
       "size": {"field": "s", "type": "nominal", "legend": null, "scale": {"domain": ["D1","D2","D3","D4","C1","C2","C3","C4","JEV","JG","ZIKV","WNV"], "range": [26,30,30,30,26,28,30,30,16,30,26,30]}}}}
    ]},
   {"width": 152, "height": 100, "title": "1C5", "transform": [{"filter": "datum.p == '1C5'"}],
    "encoding": {"x": {"field": "x", "type": "quantitative", "title": "Log₁₀ MAb concentration (µg/ml)", "scale": {"domain": [-2.5, 3], "nice": false, "zero": false}, "axis": {"tickCount": 55, "tickSize": {"condition": {"test": "abs(datum.value % 2) < 0.001", "value": 4}, "value": 2}, "labelExpr": "abs(datum.value % 2) < 0.001 ? toString(round(datum.value)) : ''", "labelOverlap": false, "labelFlush": false}},
     "y": {"field": "y", "type": "quantitative", "title": "% Neutralization", "scale": {"domain": [0, 120], "nice": false}, "axis": {"values": [0, 20, 40, 60, 80, 100, 120]}}},
    "layer": [
     {"mark": {"type": "line", "interpolate": "monotone", "strokeWidth": 1}, "encoding": {"color": {"field": "s", "type": "nominal", "legend": null, "scale": {"domain": ["D1","D2","D3","D4","C1","C2","C3","C4","JEV","JG","ZIKV","WNV"], "range": ["#1f3df5","#f51d1d","#3de03d","#f5338f","#23258f","#9e3b3b","#2f9a2f","#9a2b66","#111111","#111111","#1f3df5","#f51d1d"]}}}},
     {"mark": {"type": "point", "filled": true, "opacity": 1, "strokeWidth": 1.1}, "encoding": {
       "stroke": {"field": "s", "type": "nominal", "legend": null, "scale": {"domain": ["D1","D2","D3","D4","C1","C2","C3","C4","JEV","JG","ZIKV","WNV"], "range": ["#1f3df5","#f51d1d","#3de03d","#f5338f","#23258f","#9e3b3b","#2f9a2f","#9a2b66","#111111","#a0a0a0","#1f3df5","#f51d1d"]}},
       "fill": {"field": "s", "type": "nominal", "legend": null, "scale": {"domain": ["D1","D2","D3","D4","C1","C2","C3","C4","JEV","JG","ZIKV","WNV"], "range": ["#1f3df5","#f51d1d","#3de03d","#f5338f","#ffffff","#ffffff","#ffffff","#ffffff","#111111","#c4c4c4","#1f3df5","#f51d1d"]}},
       "shape": {"field": "s", "type": "nominal", "legend": null, "scale": {"domain": ["D1","D2","D3","D4","C1","C2","C3","C4","JEV","JG","ZIKV","WNV"], "range": ["circle","square","triangle-up","triangle-down","circle","square","triangle-up","triangle-down","diamond","square","circle","square"]}},
       "size": {"field": "s", "type": "nominal", "legend": null, "scale": {"domain": ["D1","D2","D3","D4","C1","C2","C3","C4","JEV","JG","ZIKV","WNV"], "range": [26,30,30,30,26,28,30,30,16,30,26,30]}}}}
    ]},
   {"width": 152, "height": 100, "title": "1E5", "transform": [{"filter": "datum.p == '1E5'"}],
    "encoding": {"x": {"field": "x", "type": "quantitative", "title": "Log₁₀ MAb concentration (µg/ml)", "scale": {"domain": [-2.5, 3], "nice": false, "zero": false}, "axis": {"tickCount": 55, "tickSize": {"condition": {"test": "abs(datum.value % 2) < 0.001", "value": 4}, "value": 2}, "labelExpr": "abs(datum.value % 2) < 0.001 ? toString(round(datum.value)) : ''", "labelOverlap": false, "labelFlush": false}},
     "y": {"field": "y", "type": "quantitative", "title": "% Neutralization", "scale": {"domain": [0, 120], "nice": false}, "axis": {"values": [0, 20, 40, 60, 80, 100, 120]}}},
    "layer": [
     {"mark": {"type": "line", "interpolate": "monotone", "strokeWidth": 1}, "encoding": {"color": {"field": "s", "type": "nominal", "legend": null, "scale": {"domain": ["D1","D2","D3","D4","C1","C2","C3","C4","JEV","JG","ZIKV","WNV"], "range": ["#1f3df5","#f51d1d","#3de03d","#f5338f","#23258f","#9e3b3b","#2f9a2f","#9a2b66","#111111","#111111","#1f3df5","#f51d1d"]}}}},
     {"mark": {"type": "point", "filled": true, "opacity": 1, "strokeWidth": 1.1}, "encoding": {
       "stroke": {"field": "s", "type": "nominal", "legend": null, "scale": {"domain": ["D1","D2","D3","D4","C1","C2","C3","C4","JEV","JG","ZIKV","WNV"], "range": ["#1f3df5","#f51d1d","#3de03d","#f5338f","#23258f","#9e3b3b","#2f9a2f","#9a2b66","#111111","#a0a0a0","#1f3df5","#f51d1d"]}},
       "fill": {"field": "s", "type": "nominal", "legend": null, "scale": {"domain": ["D1","D2","D3","D4","C1","C2","C3","C4","JEV","JG","ZIKV","WNV"], "range": ["#1f3df5","#f51d1d","#3de03d","#f5338f","#ffffff","#ffffff","#ffffff","#ffffff","#111111","#c4c4c4","#1f3df5","#f51d1d"]}},
       "shape": {"field": "s", "type": "nominal", "legend": null, "scale": {"domain": ["D1","D2","D3","D4","C1","C2","C3","C4","JEV","JG","ZIKV","WNV"], "range": ["circle","square","triangle-up","triangle-down","circle","square","triangle-up","triangle-down","diamond","square","circle","square"]}},
       "size": {"field": "s", "type": "nominal", "legend": null, "scale": {"domain": ["D1","D2","D3","D4","C1","C2","C3","C4","JEV","JG","ZIKV","WNV"], "range": [26,30,30,30,26,28,30,30,16,30,26,30]}}}}
    ]}
  ]},
  {"bounds": "flush", "spacing": 36, "hconcat": [
   {"width": 152, "height": 100, "title": "1F11", "transform": [{"filter": "datum.p == '1F11'"}],
    "encoding": {"x": {"field": "x", "type": "quantitative", "title": "Log₁₀ MAb concentration (µg/ml)", "scale": {"domain": [-2.5, 3], "nice": false, "zero": false}, "axis": {"tickCount": 55, "tickSize": {"condition": {"test": "abs(datum.value % 2) < 0.001", "value": 4}, "value": 2}, "labelExpr": "abs(datum.value % 2) < 0.001 ? toString(round(datum.value)) : ''", "labelOverlap": false, "labelFlush": false}},
     "y": {"field": "y", "type": "quantitative", "title": "% Neutralization", "scale": {"domain": [0, 120], "nice": false}, "axis": {"values": [0, 20, 40, 60, 80, 100, 120]}}},
    "layer": [
     {"mark": {"type": "line", "interpolate": "monotone", "strokeWidth": 1}, "encoding": {"color": {"field": "s", "type": "nominal", "legend": null, "scale": {"domain": ["D1","D2","D3","D4","C1","C2","C3","C4","JEV","JG","ZIKV","WNV"], "range": ["#1f3df5","#f51d1d","#3de03d","#f5338f","#23258f","#9e3b3b","#2f9a2f","#9a2b66","#111111","#111111","#1f3df5","#f51d1d"]}}}},
     {"mark": {"type": "point", "filled": true, "opacity": 1, "strokeWidth": 1.1}, "encoding": {
       "stroke": {"field": "s", "type": "nominal", "legend": null, "scale": {"domain": ["D1","D2","D3","D4","C1","C2","C3","C4","JEV","JG","ZIKV","WNV"], "range": ["#1f3df5","#f51d1d","#3de03d","#f5338f","#23258f","#9e3b3b","#2f9a2f","#9a2b66","#111111","#a0a0a0","#1f3df5","#f51d1d"]}},
       "fill": {"field": "s", "type": "nominal", "legend": null, "scale": {"domain": ["D1","D2","D3","D4","C1","C2","C3","C4","JEV","JG","ZIKV","WNV"], "range": ["#1f3df5","#f51d1d","#3de03d","#f5338f","#ffffff","#ffffff","#ffffff","#ffffff","#111111","#c4c4c4","#1f3df5","#f51d1d"]}},
       "shape": {"field": "s", "type": "nominal", "legend": null, "scale": {"domain": ["D1","D2","D3","D4","C1","C2","C3","C4","JEV","JG","ZIKV","WNV"], "range": ["circle","square","triangle-up","triangle-down","circle","square","triangle-up","triangle-down","diamond","square","circle","square"]}},
       "size": {"field": "s", "type": "nominal", "legend": null, "scale": {"domain": ["D1","D2","D3","D4","C1","C2","C3","C4","JEV","JG","ZIKV","WNV"], "range": [26,30,30,30,26,28,30,30,16,30,26,30]}}}}
    ]},
   {"width": 152, "height": 100, "title": "2C2", "transform": [{"filter": "datum.p == '2C2'"}],
    "encoding": {"x": {"field": "x", "type": "quantitative", "title": "Log₁₀ MAb concentration (µg/ml)", "scale": {"domain": [-2.5, 3], "nice": false, "zero": false}, "axis": {"tickCount": 55, "tickSize": {"condition": {"test": "abs(datum.value % 2) < 0.001", "value": 4}, "value": 2}, "labelExpr": "abs(datum.value % 2) < 0.001 ? toString(round(datum.value)) : ''", "labelOverlap": false, "labelFlush": false}},
     "y": {"field": "y", "type": "quantitative", "title": "% Neutralization", "scale": {"domain": [0, 120], "nice": false}, "axis": {"values": [0, 20, 40, 60, 80, 100, 120]}}},
    "layer": [
     {"mark": {"type": "line", "interpolate": "monotone", "strokeWidth": 1}, "encoding": {"color": {"field": "s", "type": "nominal", "legend": null, "scale": {"domain": ["D1","D2","D3","D4","C1","C2","C3","C4","JEV","JG","ZIKV","WNV"], "range": ["#1f3df5","#f51d1d","#3de03d","#f5338f","#23258f","#9e3b3b","#2f9a2f","#9a2b66","#111111","#111111","#1f3df5","#f51d1d"]}}}},
     {"mark": {"type": "point", "filled": true, "opacity": 1, "strokeWidth": 1.1}, "encoding": {
       "stroke": {"field": "s", "type": "nominal", "legend": null, "scale": {"domain": ["D1","D2","D3","D4","C1","C2","C3","C4","JEV","JG","ZIKV","WNV"], "range": ["#1f3df5","#f51d1d","#3de03d","#f5338f","#23258f","#9e3b3b","#2f9a2f","#9a2b66","#111111","#a0a0a0","#1f3df5","#f51d1d"]}},
       "fill": {"field": "s", "type": "nominal", "legend": null, "scale": {"domain": ["D1","D2","D3","D4","C1","C2","C3","C4","JEV","JG","ZIKV","WNV"], "range": ["#1f3df5","#f51d1d","#3de03d","#f5338f","#ffffff","#ffffff","#ffffff","#ffffff","#111111","#c4c4c4","#1f3df5","#f51d1d"]}},
       "shape": {"field": "s", "type": "nominal", "legend": null, "scale": {"domain": ["D1","D2","D3","D4","C1","C2","C3","C4","JEV","JG","ZIKV","WNV"], "range": ["circle","square","triangle-up","triangle-down","circle","square","triangle-up","triangle-down","diamond","square","circle","square"]}},
       "size": {"field": "s", "type": "nominal", "legend": null, "scale": {"domain": ["D1","D2","D3","D4","C1","C2","C3","C4","JEV","JG","ZIKV","WNV"], "range": [26,30,30,30,26,28,30,30,16,30,26,30]}}}}
    ]},
   {"width": 152, "height": 100, "title": "2G2", "transform": [{"filter": "datum.p == '2G2'"}],
    "encoding": {"x": {"field": "x", "type": "quantitative", "title": "Log₁₀ MAb concentration (µg/ml)", "scale": {"domain": [-2.5, 3], "nice": false, "zero": false}, "axis": {"tickCount": 55, "tickSize": {"condition": {"test": "abs(datum.value % 2) < 0.001", "value": 4}, "value": 2}, "labelExpr": "abs(datum.value % 2) < 0.001 ? toString(round(datum.value)) : ''", "labelOverlap": false, "labelFlush": false}},
     "y": {"field": "y", "type": "quantitative", "title": "% Neutralization", "scale": {"domain": [0, 120], "nice": false}, "axis": {"values": [0, 20, 40, 60, 80, 100, 120]}}},
    "layer": [
     {"mark": {"type": "line", "interpolate": "monotone", "strokeWidth": 1}, "encoding": {"color": {"field": "s", "type": "nominal", "legend": null, "scale": {"domain": ["D1","D2","D3","D4","C1","C2","C3","C4","JEV","JG","ZIKV","WNV"], "range": ["#1f3df5","#f51d1d","#3de03d","#f5338f","#23258f","#9e3b3b","#2f9a2f","#9a2b66","#111111","#111111","#1f3df5","#f51d1d"]}}}},
     {"mark": {"type": "point", "filled": true, "opacity": 1, "strokeWidth": 1.1}, "encoding": {
       "stroke": {"field": "s", "type": "nominal", "legend": null, "scale": {"domain": ["D1","D2","D3","D4","C1","C2","C3","C4","JEV","JG","ZIKV","WNV"], "range": ["#1f3df5","#f51d1d","#3de03d","#f5338f","#23258f","#9e3b3b","#2f9a2f","#9a2b66","#111111","#a0a0a0","#1f3df5","#f51d1d"]}},
       "fill": {"field": "s", "type": "nominal", "legend": null, "scale": {"domain": ["D1","D2","D3","D4","C1","C2","C3","C4","JEV","JG","ZIKV","WNV"], "range": ["#1f3df5","#f51d1d","#3de03d","#f5338f","#ffffff","#ffffff","#ffffff","#ffffff","#111111","#c4c4c4","#1f3df5","#f51d1d"]}},
       "shape": {"field": "s", "type": "nominal", "legend": null, "scale": {"domain": ["D1","D2","D3","D4","C1","C2","C3","C4","JEV","JG","ZIKV","WNV"], "range": ["circle","square","triangle-up","triangle-down","circle","square","triangle-up","triangle-down","diamond","square","circle","square"]}},
       "size": {"field": "s", "type": "nominal", "legend": null, "scale": {"domain": ["D1","D2","D3","D4","C1","C2","C3","C4","JEV","JG","ZIKV","WNV"], "range": [26,30,30,30,26,28,30,30,16,30,26,30]}}}}
    ]},
   {"width": 80, "height": 100,
    "data": {"values": [
      {"s": "D1", "label": "DENV-1 Mochizuki", "o": 0},
      {"s": "D2", "label": "DENV-2 NGC", "o": 1},
      {"s": "D3", "label": "DENV-3 H87", "o": 2},
      {"s": "D4", "label": "DENV-4 H241", "o": 3},
      {"s": "C1", "label": "DENV-1 clinical isolate", "o": 4},
      {"s": "C2", "label": "DENV-2 clinical isolate", "o": 5},
      {"s": "C3", "label": "DENV-3 clinical isolate", "o": 6},
      {"s": "C4", "label": "DENV-4 clinical isolate", "o": 7},
      {"s": "JEV", "label": "JEV", "o": 8}
    ]},
    "encoding": {"y": {"field": "o", "type": "quantitative", "scale": {"domain": [-0.3, 7.247], "reverse": true, "nice": false, "zero": false}, "axis": null}},
    "layer": [
     {"mark": {"type": "rule", "strokeWidth": 1}, "encoding": {
       "x": {"datum": 0, "type": "quantitative", "scale": {"domain": [12, 92], "nice": false, "zero": false}, "axis": null},
       "x2": {"datum": 11},
       "color": {"field": "s", "type": "nominal", "legend": null, "scale": {"domain": ["D1","D2","D3","D4","C1","C2","C3","C4","JEV","JG","ZIKV","WNV"], "range": ["#1f3df5","#f51d1d","#3de03d","#f5338f","#23258f","#9e3b3b","#2f9a2f","#9a2b66","#111111","#111111","#1f3df5","#f51d1d"]}}}},
     {"mark": {"type": "point", "filled": true, "opacity": 1, "strokeWidth": 1.1}, "encoding": {
       "x": {"datum": 5.5, "type": "quantitative"},
       "stroke": {"field": "s", "type": "nominal", "legend": null, "scale": {"domain": ["D1","D2","D3","D4","C1","C2","C3","C4","JEV","JG","ZIKV","WNV"], "range": ["#1f3df5","#f51d1d","#3de03d","#f5338f","#23258f","#9e3b3b","#2f9a2f","#9a2b66","#111111","#a0a0a0","#1f3df5","#f51d1d"]}},
       "fill": {"field": "s", "type": "nominal", "legend": null, "scale": {"domain": ["D1","D2","D3","D4","C1","C2","C3","C4","JEV","JG","ZIKV","WNV"], "range": ["#1f3df5","#f51d1d","#3de03d","#f5338f","#ffffff","#ffffff","#ffffff","#ffffff","#111111","#c4c4c4","#1f3df5","#f51d1d"]}},
       "shape": {"field": "s", "type": "nominal", "legend": null, "scale": {"domain": ["D1","D2","D3","D4","C1","C2","C3","C4","JEV","JG","ZIKV","WNV"], "range": ["circle","square","triangle-up","triangle-down","circle","square","triangle-up","triangle-down","diamond","square","circle","square"]}},
       "size": {"field": "s", "type": "nominal", "legend": null, "scale": {"domain": ["D1","D2","D3","D4","C1","C2","C3","C4","JEV","JG","ZIKV","WNV"], "range": [26,30,30,30,26,28,30,30,16,30,26,30]}}}},
     {"mark": {"type": "text", "align": "left", "baseline": "middle", "fontSize": 7.9, "font": "Liberation Sans", "color": "#111"}, "encoding": {
       "x": {"datum": 16, "type": "quantitative"},
       "text": {"field": "label"}}}
    ]}
  ]},
  {"bounds": "flush", "spacing": 36, "hconcat": [
   {"width": 152, "height": 100, "title": "3E1", "transform": [{"filter": "datum.p == '3E1'"}],
    "encoding": {"x": {"field": "x", "type": "quantitative", "title": "Log₁₀ MAb concentration (µg/ml)", "scale": {"domain": [-2.5, 3], "nice": false, "zero": false}, "axis": {"tickCount": 55, "tickSize": {"condition": {"test": "abs(datum.value % 2) < 0.001", "value": 4}, "value": 2}, "labelExpr": "abs(datum.value % 2) < 0.001 ? toString(round(datum.value)) : ''", "labelOverlap": false, "labelFlush": false}},
     "y": {"field": "y", "type": "quantitative", "title": "% Neutralization", "scale": {"domain": [0, 120], "nice": false}, "axis": {"values": [0, 20, 40, 60, 80, 100, 120]}}},
    "layer": [
     {"mark": {"type": "line", "interpolate": "monotone", "strokeWidth": 1}, "encoding": {"color": {"field": "s", "type": "nominal", "legend": null, "scale": {"domain": ["D1","D2","D3","D4","C1","C2","C3","C4","JEV","JG","ZIKV","WNV"], "range": ["#1f3df5","#f51d1d","#3de03d","#f5338f","#23258f","#9e3b3b","#2f9a2f","#9a2b66","#111111","#111111","#1f3df5","#f51d1d"]}}}},
     {"mark": {"type": "point", "filled": true, "opacity": 1, "strokeWidth": 1.1}, "encoding": {
       "stroke": {"field": "s", "type": "nominal", "legend": null, "scale": {"domain": ["D1","D2","D3","D4","C1","C2","C3","C4","JEV","JG","ZIKV","WNV"], "range": ["#1f3df5","#f51d1d","#3de03d","#f5338f","#23258f","#9e3b3b","#2f9a2f","#9a2b66","#111111","#a0a0a0","#1f3df5","#f51d1d"]}},
       "fill": {"field": "s", "type": "nominal", "legend": null, "scale": {"domain": ["D1","D2","D3","D4","C1","C2","C3","C4","JEV","JG","ZIKV","WNV"], "range": ["#1f3df5","#f51d1d","#3de03d","#f5338f","#ffffff","#ffffff","#ffffff","#ffffff","#111111","#c4c4c4","#1f3df5","#f51d1d"]}},
       "shape": {"field": "s", "type": "nominal", "legend": null, "scale": {"domain": ["D1","D2","D3","D4","C1","C2","C3","C4","JEV","JG","ZIKV","WNV"], "range": ["circle","square","triangle-up","triangle-down","circle","square","triangle-up","triangle-down","diamond","square","circle","square"]}},
       "size": {"field": "s", "type": "nominal", "legend": null, "scale": {"domain": ["D1","D2","D3","D4","C1","C2","C3","C4","JEV","JG","ZIKV","WNV"], "range": [26,30,30,30,26,28,30,30,16,30,26,30]}}}}
    ]},
   {"width": 152, "height": 100, "title": "3G9", "transform": [{"filter": "datum.p == '3G9'"}],
    "encoding": {"x": {"field": "x", "type": "quantitative", "title": "Log₁₀ MAb concentration (µg/ml)", "scale": {"domain": [-2.5, 3], "nice": false, "zero": false}, "axis": {"tickCount": 55, "tickSize": {"condition": {"test": "abs(datum.value % 2) < 0.001", "value": 4}, "value": 2}, "labelExpr": "abs(datum.value % 2) < 0.001 ? toString(round(datum.value)) : ''", "labelOverlap": false, "labelFlush": false}},
     "y": {"field": "y", "type": "quantitative", "title": "% Neutralization", "scale": {"domain": [0, 120], "nice": false}, "axis": {"values": [0, 20, 40, 60, 80, 100, 120]}}},
    "layer": [
     {"mark": {"type": "line", "interpolate": "monotone", "strokeWidth": 1}, "encoding": {"color": {"field": "s", "type": "nominal", "legend": null, "scale": {"domain": ["D1","D2","D3","D4","C1","C2","C3","C4","JEV","JG","ZIKV","WNV"], "range": ["#1f3df5","#f51d1d","#3de03d","#f5338f","#23258f","#9e3b3b","#2f9a2f","#9a2b66","#111111","#111111","#1f3df5","#f51d1d"]}}}},
     {"mark": {"type": "point", "filled": true, "opacity": 1, "strokeWidth": 1.1}, "encoding": {
       "stroke": {"field": "s", "type": "nominal", "legend": null, "scale": {"domain": ["D1","D2","D3","D4","C1","C2","C3","C4","JEV","JG","ZIKV","WNV"], "range": ["#1f3df5","#f51d1d","#3de03d","#f5338f","#23258f","#9e3b3b","#2f9a2f","#9a2b66","#111111","#a0a0a0","#1f3df5","#f51d1d"]}},
       "fill": {"field": "s", "type": "nominal", "legend": null, "scale": {"domain": ["D1","D2","D3","D4","C1","C2","C3","C4","JEV","JG","ZIKV","WNV"], "range": ["#1f3df5","#f51d1d","#3de03d","#f5338f","#ffffff","#ffffff","#ffffff","#ffffff","#111111","#c4c4c4","#1f3df5","#f51d1d"]}},
       "shape": {"field": "s", "type": "nominal", "legend": null, "scale": {"domain": ["D1","D2","D3","D4","C1","C2","C3","C4","JEV","JG","ZIKV","WNV"], "range": ["circle","square","triangle-up","triangle-down","circle","square","triangle-up","triangle-down","diamond","square","circle","square"]}},
       "size": {"field": "s", "type": "nominal", "legend": null, "scale": {"domain": ["D1","D2","D3","D4","C1","C2","C3","C4","JEV","JG","ZIKV","WNV"], "range": [26,30,30,30,26,28,30,30,16,30,26,30]}}}}
    ]},
   {"width": 152, "height": 100, "title": "4G2", "transform": [{"filter": "datum.p == '4G2'"}],
    "encoding": {"x": {"field": "x", "type": "quantitative", "title": "Log₁₀ MAb concentration (µg/ml)", "scale": {"domain": [-2.5, 3], "nice": false, "zero": false}, "axis": {"tickCount": 55, "tickSize": {"condition": {"test": "abs(datum.value % 2) < 0.001", "value": 4}, "value": 2}, "labelExpr": "abs(datum.value % 2) < 0.001 ? toString(round(datum.value)) : ''", "labelOverlap": false, "labelFlush": false}},
     "y": {"field": "y", "type": "quantitative", "title": "% Neutralization", "scale": {"domain": [0, 120], "nice": false}, "axis": {"values": [0, 20, 40, 60, 80, 100, 120]}}},
    "layer": [
     {"mark": {"type": "line", "interpolate": "monotone", "strokeWidth": 1}, "encoding": {"color": {"field": "s", "type": "nominal", "legend": null, "scale": {"domain": ["D1","D2","D3","D4","C1","C2","C3","C4","JEV","JG","ZIKV","WNV"], "range": ["#1f3df5","#f51d1d","#3de03d","#f5338f","#23258f","#9e3b3b","#2f9a2f","#9a2b66","#111111","#111111","#1f3df5","#f51d1d"]}}}},
     {"mark": {"type": "point", "filled": true, "opacity": 1, "strokeWidth": 1.1}, "encoding": {
       "stroke": {"field": "s", "type": "nominal", "legend": null, "scale": {"domain": ["D1","D2","D3","D4","C1","C2","C3","C4","JEV","JG","ZIKV","WNV"], "range": ["#1f3df5","#f51d1d","#3de03d","#f5338f","#23258f","#9e3b3b","#2f9a2f","#9a2b66","#111111","#a0a0a0","#1f3df5","#f51d1d"]}},
       "fill": {"field": "s", "type": "nominal", "legend": null, "scale": {"domain": ["D1","D2","D3","D4","C1","C2","C3","C4","JEV","JG","ZIKV","WNV"], "range": ["#1f3df5","#f51d1d","#3de03d","#f5338f","#ffffff","#ffffff","#ffffff","#ffffff","#111111","#c4c4c4","#1f3df5","#f51d1d"]}},
       "shape": {"field": "s", "type": "nominal", "legend": null, "scale": {"domain": ["D1","D2","D3","D4","C1","C2","C3","C4","JEV","JG","ZIKV","WNV"], "range": ["circle","square","triangle-up","triangle-down","circle","square","triangle-up","triangle-down","diamond","square","circle","square"]}},
       "size": {"field": "s", "type": "nominal", "legend": null, "scale": {"domain": ["D1","D2","D3","D4","C1","C2","C3","C4","JEV","JG","ZIKV","WNV"], "range": [26,30,30,30,26,28,30,30,16,30,26,30]}}}}
    ]}
  ]}
 ]
},
{"bounds": "flush", "spacing": 42,
 "title": {"text": "B", "anchor": "start", "fontSize": 18, "fontWeight": "normal", "offset": -5},
 "hconcat": [
   {"width": 152, "height": 100, "title": "1F11", "transform": [{"filter": "datum.p == 'B1'"}],
    "encoding": {"x": {"field": "x", "type": "quantitative", "title": "Log₁₀ MAb concentration (µg/ml)", "scale": {"domain": [-2, 1], "nice": false, "zero": false}, "axis": {"tickCount": 30, "tickSize": {"condition": {"test": "abs(datum.value % 1) < 0.001", "value": 4}, "value": 2}, "labelExpr": "abs(datum.value % 1) < 0.001 ? toString(round(datum.value)) : ''", "labelOverlap": false, "labelFlush": false}},
     "y": {"field": "y", "type": "quantitative", "title": "% Neutralization", "scale": {"domain": [0, 120], "nice": false}, "axis": {"values": [0, 20, 40, 60, 80, 100, 120]}}},
    "layer": [
     {"mark": {"type": "line", "interpolate": "monotone", "strokeWidth": 1}, "encoding": {"color": {"field": "s", "type": "nominal", "legend": null, "scale": {"domain": ["D1","D2","D3","D4","C1","C2","C3","C4","JEV","JG","ZIKV","WNV"], "range": ["#1f3df5","#f51d1d","#3de03d","#f5338f","#23258f","#9e3b3b","#2f9a2f","#9a2b66","#111111","#111111","#1f3df5","#f51d1d"]}}}},
     {"mark": {"type": "point", "filled": true, "opacity": 1, "strokeWidth": 1.1}, "encoding": {
       "stroke": {"field": "s", "type": "nominal", "legend": null, "scale": {"domain": ["D1","D2","D3","D4","C1","C2","C3","C4","JEV","JG","ZIKV","WNV"], "range": ["#1f3df5","#f51d1d","#3de03d","#f5338f","#23258f","#9e3b3b","#2f9a2f","#9a2b66","#111111","#a0a0a0","#1f3df5","#f51d1d"]}},
       "fill": {"field": "s", "type": "nominal", "legend": null, "scale": {"domain": ["D1","D2","D3","D4","C1","C2","C3","C4","JEV","JG","ZIKV","WNV"], "range": ["#1f3df5","#f51d1d","#3de03d","#f5338f","#ffffff","#ffffff","#ffffff","#ffffff","#111111","#c4c4c4","#1f3df5","#f51d1d"]}},
       "shape": {"field": "s", "type": "nominal", "legend": null, "scale": {"domain": ["D1","D2","D3","D4","C1","C2","C3","C4","JEV","JG","ZIKV","WNV"], "range": ["circle","square","triangle-up","triangle-down","circle","square","triangle-up","triangle-down","diamond","square","circle","square"]}},
       "size": {"field": "s", "type": "nominal", "legend": null, "scale": {"domain": ["D1","D2","D3","D4","C1","C2","C3","C4","JEV","JG","ZIKV","WNV"], "range": [26,30,30,30,26,28,30,30,16,30,26,30]}}}}
    ]},
   {"width": 150, "height": 100, "title": "3G9", "transform": [{"filter": "datum.p == 'B2'"}],
    "encoding": {"x": {"field": "x", "type": "quantitative", "title": "Log₁₀ MAb concentration (µg/ml)", "scale": {"domain": [-2, 1], "nice": false, "zero": false}, "axis": {"tickCount": 30, "tickSize": {"condition": {"test": "abs(datum.value % 1) < 0.001", "value": 4}, "value": 2}, "labelExpr": "abs(datum.value % 1) < 0.001 ? toString(round(datum.value)) : ''", "labelOverlap": false, "labelFlush": false}},
     "y": {"field": "y", "type": "quantitative", "title": "% Neutralization", "scale": {"domain": [0, 120], "nice": false}, "axis": {"values": [0, 20, 40, 60, 80, 100, 120]}}},
    "layer": [
     {"mark": {"type": "line", "interpolate": "monotone", "strokeWidth": 1}, "encoding": {"color": {"field": "s", "type": "nominal", "legend": null, "scale": {"domain": ["D1","D2","D3","D4","C1","C2","C3","C4","JEV","JG","ZIKV","WNV"], "range": ["#1f3df5","#f51d1d","#3de03d","#f5338f","#23258f","#9e3b3b","#2f9a2f","#9a2b66","#111111","#111111","#1f3df5","#f51d1d"]}}}},
     {"mark": {"type": "point", "filled": true, "opacity": 1, "strokeWidth": 1.1}, "encoding": {
       "stroke": {"field": "s", "type": "nominal", "legend": null, "scale": {"domain": ["D1","D2","D3","D4","C1","C2","C3","C4","JEV","JG","ZIKV","WNV"], "range": ["#1f3df5","#f51d1d","#3de03d","#f5338f","#23258f","#9e3b3b","#2f9a2f","#9a2b66","#111111","#a0a0a0","#1f3df5","#f51d1d"]}},
       "fill": {"field": "s", "type": "nominal", "legend": null, "scale": {"domain": ["D1","D2","D3","D4","C1","C2","C3","C4","JEV","JG","ZIKV","WNV"], "range": ["#1f3df5","#f51d1d","#3de03d","#f5338f","#ffffff","#ffffff","#ffffff","#ffffff","#111111","#c4c4c4","#1f3df5","#f51d1d"]}},
       "shape": {"field": "s", "type": "nominal", "legend": null, "scale": {"domain": ["D1","D2","D3","D4","C1","C2","C3","C4","JEV","JG","ZIKV","WNV"], "range": ["circle","square","triangle-up","triangle-down","circle","square","triangle-up","triangle-down","diamond","square","circle","square"]}},
       "size": {"field": "s", "type": "nominal", "legend": null, "scale": {"domain": ["D1","D2","D3","D4","C1","C2","C3","C4","JEV","JG","ZIKV","WNV"], "range": [26,30,30,30,26,28,30,30,16,30,26,30]}}}}
    ]},
   {"width": 80, "height": 100,
    "data": {"values": [
      {"s": "ZIKV", "label": "ZIKV MR766", "o": 0},
      {"s": "WNV", "label": "WNV NY99", "o": 1}
    ]},
    "encoding": {"y": {"field": "o", "type": "quantitative", "scale": {"domain": [-0.333, 8.0], "reverse": true, "nice": false, "zero": false}, "axis": null}},
    "layer": [
     {"mark": {"type": "rule", "strokeWidth": 1}, "encoding": {
       "x": {"datum": 0, "type": "quantitative", "scale": {"domain": [19, 99], "nice": false, "zero": false}, "axis": null},
       "x2": {"datum": 12},
       "color": {"field": "s", "type": "nominal", "legend": null, "scale": {"domain": ["D1","D2","D3","D4","C1","C2","C3","C4","JEV","JG","ZIKV","WNV"], "range": ["#1f3df5","#f51d1d","#3de03d","#f5338f","#23258f","#9e3b3b","#2f9a2f","#9a2b66","#111111","#111111","#1f3df5","#f51d1d"]}}}},
     {"mark": {"type": "point", "filled": true, "opacity": 1, "strokeWidth": 1.1}, "encoding": {
       "x": {"datum": 6, "type": "quantitative"},
       "stroke": {"field": "s", "type": "nominal", "legend": null, "scale": {"domain": ["D1","D2","D3","D4","C1","C2","C3","C4","JEV","JG","ZIKV","WNV"], "range": ["#1f3df5","#f51d1d","#3de03d","#f5338f","#23258f","#9e3b3b","#2f9a2f","#9a2b66","#111111","#a0a0a0","#1f3df5","#f51d1d"]}},
       "fill": {"field": "s", "type": "nominal", "legend": null, "scale": {"domain": ["D1","D2","D3","D4","C1","C2","C3","C4","JEV","JG","ZIKV","WNV"], "range": ["#1f3df5","#f51d1d","#3de03d","#f5338f","#ffffff","#ffffff","#ffffff","#ffffff","#111111","#c4c4c4","#1f3df5","#f51d1d"]}},
       "shape": {"field": "s", "type": "nominal", "legend": null, "scale": {"domain": ["D1","D2","D3","D4","C1","C2","C3","C4","JEV","JG","ZIKV","WNV"], "range": ["circle","square","triangle-up","triangle-down","circle","square","triangle-up","triangle-down","diamond","square","circle","square"]}},
       "size": {"field": "s", "type": "nominal", "legend": null, "scale": {"domain": ["D1","D2","D3","D4","C1","C2","C3","C4","JEV","JG","ZIKV","WNV"], "range": [26,30,30,30,26,28,30,30,16,30,26,30]}}}},
     {"mark": {"type": "text", "align": "left", "baseline": "middle", "fontSize": 7.8, "font": "Liberation Sans", "color": "#111"}, "encoding": {
       "x": {"datum": 17, "type": "quantitative"},
       "text": {"field": "label"}}}
    ]}
 ]}
],
"spacing": 42
}
